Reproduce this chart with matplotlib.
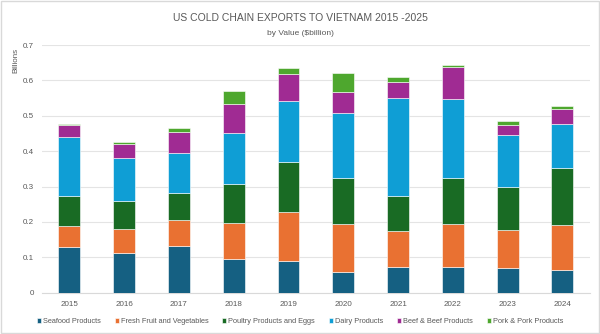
import matplotlib

matplotlib.use("Agg")
import matplotlib.pyplot as plt
from matplotlib.patches import Rectangle

plt.rcParams["font.family"] = ["Liberation Sans Narrow", "Liberation Sans", "DejaVu Sans"]

years = ["2015", "2016", "2017", "2018", "2019", "2020", "2021", "2022", "2023", "2024"]

seafood = [0.129, 0.113, 0.132, 0.094, 0.090, 0.057, 0.073, 0.071, 0.070, 0.064]
fruit_veg = [0.059, 0.067, 0.073, 0.103, 0.139, 0.138, 0.100, 0.122, 0.106, 0.128]
poultry = [0.085, 0.079, 0.076, 0.110, 0.141, 0.129, 0.101, 0.131, 0.124, 0.159]
dairy = [0.168, 0.121, 0.113, 0.145, 0.171, 0.185, 0.276, 0.223, 0.146, 0.127]
beef = [0.032, 0.040, 0.060, 0.082, 0.076, 0.059, 0.045, 0.092, 0.027, 0.042]
pork = [0.005, 0.005, 0.012, 0.035, 0.019, 0.054, 0.014, 0.006, 0.011, 0.008]

series = [
    ("Seafood Products", seafood, "#156082"),
    ("Fresh Fruit and Vegetables", fruit_veg, "#E97132"),
    ("Poultry Products and Eggs", poultry, "#196B24"),
    ("Dairy Products", dairy, "#0F9ED5"),
    ("Beef & Beef Products", beef, "#A02B93"),
    ("Pork & Pork Products", pork, "#4EA72E"),
]

TXT = "#595959"

fig = plt.figure(figsize=(6.0, 3.34), dpi=100)
ax = fig.add_axes([0.07, 0.124, 0.913, 0.741])

x = range(len(years))
bottom = [0.0] * len(years)
handles = []
for name, vals, color in series:
    h = ax.bar(x, vals, width=0.4, bottom=bottom, color=color,
               edgecolor="white", linewidth=0.4, label=name, zorder=3)
    handles.append(h)
    bottom = [b + v for b, v in zip(bottom, vals)]

ax.set_xlim(-0.5, len(years) - 0.5)
ax.set_ylim(0, 0.7)
ax.set_xticks(list(x))
ax.set_xticklabels(years)
ax.set_yticks([0, 0.1, 0.2, 0.3, 0.4, 0.5, 0.6, 0.7])
ax.set_yticklabels(["0", "0.1", "0.2", "0.3", "0.4", "0.5", "0.6", "0.7"])
ax.tick_params(axis="both", length=0, labelsize=5.8, colors=TXT, pad=6)
ax.grid(axis="y", color="#e4e4e4", linewidth=0.8, zorder=0)
for side in ("top", "right", "left"):
    ax.spines[side].set_visible(False)
ax.spines["bottom"].set_color("#d9d9d9")
ax.spines["bottom"].set_linewidth(0.8)

fig.text(0.027, 0.82, "Billions", rotation=90, fontsize=5.8, color=TXT,
         ha="center", va="center")

fig.text(0.5, 0.947, "US COLD CHAIN EXPORTS TO VIETNAM 2015 -2025", fontsize=7.5,
         color=TXT, ha="center", va="center")
fig.text(0.5, 0.9, "by Value ($billion)", fontsize=6, color=TXT,
         ha="center", va="center")

fig.legend(handles=handles, loc="center", bbox_to_anchor=(0.5, 0.037), ncol=6,
           frameon=False, fontsize=5.3, labelcolor=TXT, handlelength=0.55,
           handleheight=0.55, handletextpad=0.25, columnspacing=1.9)

fig.patches.append(Rectangle((0.001, 0.002), 0.997, 0.995, transform=fig.transFigure,
                             fill=False, edgecolor="#d9d9d9", linewidth=1))

fig.savefig("out.png", dpi=100)
